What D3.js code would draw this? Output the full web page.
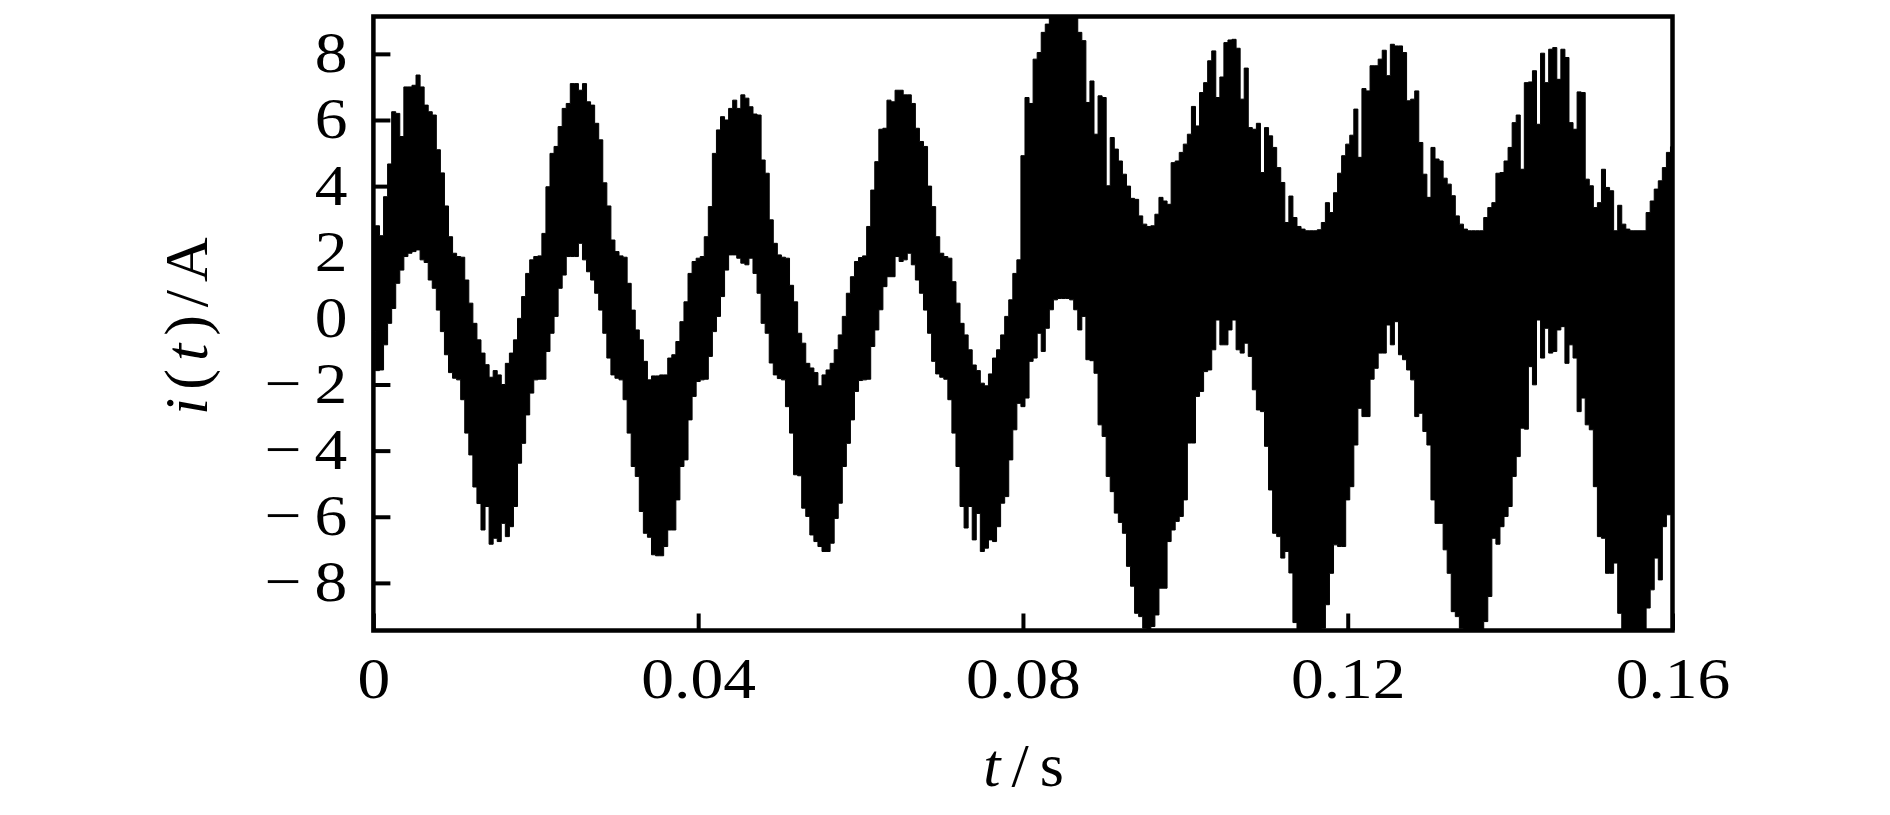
<!DOCTYPE html>
<html>
<head>
<meta charset="utf-8">
<script src="https://cdn.jsdelivr.net/npm/d3@7/dist/d3.min.js"></script>
<style>
html,body{margin:0;padding:0;background:#fff;}
svg{display:block;}
text{font-family:"Liberation Serif",serif;fill:#000;}
</style>
</head>
<body>
<svg id="chart" width="1890" height="815"></svg>
<script>
const sampleStep = 0.0005;
const xTicks = [0, 0.04, 0.08, 0.12, 0.16];
const xTickLabels = ["0", "0.04", "0.08", "0.12", "0.16"];
const yTicks = [8, 6, 4, 2, 0, -2, -4, -6, -8];
const xDomain = [0, 0.16];
const yDomain = [-9.44, 9.13];

// upper edge of the current trace, one value per 0.5 ms
const upperCurrent = [
2.8,2.8,2.5,3.68,4.67,6.25,6.2,5.5,7.0,7.0,7.05,7.36,7.0,6.45,6.25,6.15,5.1,4.4,3.4,2.47,
1.97,1.87,1.85,1.16,.46,-.15,-.65,-1.05,-1.4,-1.78,-1.58,-1.71,-2.0,-1.36,-1.05,-.65,0,.66,1.36,1.77,
1.87,1.89,2.57,3.98,4.99,5.2,5.8,6.35,6.5,7.1,7.1,6.9,7.1,6.55,6.45,5.9,5.4,4.1,3.4,2.37,
2.02,1.89,1.85,1.06,.25,-.35,-.65,-1.3,-1.86,-1.74,-1.74,-1.71,-1.71,-1.2,-1.1,-.7,-.1,.5,1.36,1.72,
1.82,1.87,2.47,3.38,4.99,5.7,6.1,6.0,6.35,6.6,6.35,6.76,6.66,6.4,6.18,6.15,4.79,4.39,2.98,2.27,
1.92,1.85,1.82,1.0,.5,-.45,-.75,-1.36,-1.5,-1.64,-2.04,-1.71,-1.56,-1.36,-.95,-.5,.06,.76,1.26,1.72,
1.84,1.89,2.78,3.88,4.74,5.72,5.75,6.6,6.55,6.9,6.9,6.76,6.76,6.5,5.75,5.35,5.2,4.0,3.38,2.47,
1.97,1.87,1.82,1.11,.46,-.15,-.5,-.95,-1.41,-1.58,-1.96,-2.04,-1.68,-1.2,-.95,-.5,.06,.56,1.36,1.77,
4.92,6.68,6.5,7.84,8.04,8.65,8.9,9.3,9.4,9.5,9.5,9.4,9.4,9.3,8.65,8.4,6.53,7.18,5.57,6.73,
6.68,4.01,5.47,5.12,4.76,4.36,4.0,3.63,3.6,3.1,2.85,2.78,2.8,3.15,3.66,3.55,3.45,4.71,4.76,5.02,
5.27,5.57,6.41,5.82,6.83,7.13,7.79,8.09,6.68,7.3,8.34,8.42,8.44,8.17,6.63,7.57,5.77,5.72,5.9,4.41,
5.77,5.52,5.17,4.56,4.11,2.9,3.7,3.05,2.78,2.7,2.65,2.65,2.65,2.68,2.9,3.5,3.2,3.8,4.39,4.92,
5.27,5.54,6.33,4.87,6.95,6.88,7.64,7.64,7.84,8.11,7.34,8.29,8.24,8.24,8.04,6.58,6.63,6.88,5.32,4.36,
3.66,5.17,4.82,4.76,4.24,4.06,3.71,3.1,2.85,2.7,2.65,2.65,2.65,2.65,3.05,3.35,3.5,4.39,4.41,4.76,
5.17,5.92,6.15,4.51,7.13,7.15,7.49,5.87,8.02,7.13,8.14,8.19,7.23,8.14,7.89,5.92,5.72,6.85,6.83,4.21,
4.01,3.35,3.5,4.51,3.96,3.86,2.65,3.42,2.85,2.7,2.65,2.65,2.65,2.65,3.2,3.55,3.91,4.16,4.56,5.02,
5.19];

// lower edge of the current trace, one value per 0.5 ms
const lowerCurrent = [
-.4,-1.58,-1.56,-.8,-.15,.3,1.06,1.46,1.87,1.97,2.02,2.07,1.77,1.69,1.16,.91,.25,-.4,-1.1,-1.64,
-1.81,-1.86,-2.46,-3.47,-4.13,-5.1,-5.6,-6.4,-5.69,-6.83,-6.65,-6.75,-6.2,-6.6,-6.3,-5.69,-4.38,-3.78,-2.92,-2.26,
-1.86,-1.84,-1.84,-1.0,-.45,.06,.91,1.31,1.87,1.87,1.87,2.27,1.77,1.41,1.16,.76,.25,-.45,-1.2,-1.71,
-1.81,-1.86,-2.46,-3.47,-4.48,-4.78,-5.84,-6.5,-6.62,-7.15,-7.18,-7.18,-6.9,-6.4,-6.4,-5.49,-4.48,-4.28,-3.07,-2.36,
-1.91,-1.86,-1.84,-1.15,-.4,.06,.66,1.46,1.92,1.92,1.82,1.67,1.62,1.82,1.36,.76,-.15,-.45,-1.35,-1.71,
-1.82,-1.86,-2.67,-3.47,-4.73,-4.76,-5.74,-5.99,-6.55,-6.75,-6.9,-7.05,-7.05,-6.8,-6.05,-5.59,-4.48,-3.78,-3.07,-2.21,
-1.88,-1.86,-1.84,-.85,-.35,.26,.96,1.26,1.26,1.87,1.72,1.77,1.97,1.62,1.16,.76,.25,-.45,-1.3,-1.68,
-1.78,-1.84,-2.46,-3.47,-4.48,-5.69,-6.34,-5.69,-6.7,-5.9,-7.05,-6.95,-6.7,-6.75,-6.3,-5.59,-5.39,-4.28,-3.37,-2.57,
-2.67,-2.41,-1.3,-1.2,-.45,-1.0,-.3,.26,.56,.6,.6,.6,.56,.26,-.35,.06,-1.25,-1.28,-1.66,-3.22,
-3.57,-4.78,-5.24,-5.89,-6.17,-6.5,-7.5,-8.1,-8.92,-9.02,-9.37,-9.42,-9.32,-8.97,-8.16,-8.16,-6.75,-6.4,-6.14,-5.99,
-5.49,-3.77,-3.77,-2.36,-2.21,-1.61,-1.56,-.95,-.05,-.8,-.8,-.35,-.05,-.95,-1.05,-.75,-1.15,-2.16,-2.77,-2.82,
-3.87,-5.19,-6.5,-6.6,-7.25,-7.05,-7.7,-9.2,-9.6,-9.7,-9.8,-9.8,-9.7,-9.6,-9.37,-8.66,-7.71,-6.85,-6.9,-6.9,
-5.49,-5.09,-3.83,-2.72,-2.97,-2.97,-1.84,-1.51,-1.05,-1.05,-.2,-.8,-.1,-1.1,-1.25,-1.56,-1.86,-2.97,-2.87,-3.42,
-3.83,-5.49,-6.2,-6.2,-7.0,-7.71,-8.87,-9.02,-9.37,-9.7,-9.8,-9.8,-9.7,-9.6,-9.17,-8.41,-6.65,-6.83,-6.3,-5.99,
-5.69,-4.78,-4.18,-3.32,-3.35,-1.46,-2.01,-.05,-1.2,-.3,-1.05,-1.0,-.35,-.25,-1.36,-.8,-1.2,-2.82,-2.41,-3.22,
-3.37,-5.09,-6.6,-6.65,-7.71,-7.71,-7.4,-8.92,-9.42,-9.6,-9.8,-9.8,-9.7,-9.5,-8.76,-8.21,-7.25,-7.91,-6.3,-5.94,
-5.89];

const yLabelParts = [["i","italic"],["(",""],["t","italic"],[")",""],["/",""],["A",""]];
const xLabelParts = [["t","italic"],["/",""],["s",""]];

const frame = {left:373.4, right:1672.5, top:16.5, bottom:630.5};
const x = d3.scaleLinear().domain(xDomain).range([frame.left, frame.right]);
const y = d3.scaleLinear().domain(yDomain).range([frame.bottom, frame.top]);

const svg = d3.select("#chart");

svg.append("clipPath").attr("id","plot").append("rect")
  .attr("x",frame.left).attr("y",frame.top)
  .attr("width",frame.right-frame.left).attr("height",frame.bottom-frame.top);

// the switching ripple is too dense to separate, so the trace fills its swing at each sample
const band = d3.area().curve(d3.curveStep)
  .x((d,i)=>x(i*sampleStep)).y1(d=>y(d)).y0((d,i)=>y(lowerCurrent[i]));
svg.append("path").attr("clip-path","url(#plot)")
  .attr("d",band(upperCurrent))
  .attr("fill","#000").attr("stroke","#000").attr("stroke-width",1)
  .attr("stroke-linejoin","round");

const stretch = 1.13;
const labelSize = 58;

const xAxis = d3.axisBottom(x).tickValues(xTicks)
  .tickFormat((d,i)=>xTickLabels[i]).tickSize(-17).tickPadding(26);
const gx = svg.append("g").attr("transform",`translate(0,${frame.bottom})`).call(xAxis);
gx.select(".domain").remove();
gx.selectAll("line").attr("stroke","#000").attr("stroke-width",4);
gx.selectAll("text").attr("font-size",labelSize)
  .attr("font-family","Liberation Serif").attr("fill","#000")
  .attr("transform",`scale(${stretch},1)`).attr("y",26).attr("dy","0.71em");

const yAxis = d3.axisLeft(y).tickValues(yTicks)
  .tickFormat(d=>d<0?"\u2212\u2009"+Math.abs(d):String(d)).tickSize(-17).tickPadding(26);
const gy = svg.append("g").attr("transform",`translate(${frame.left},0)`).call(yAxis);
gy.select(".domain").remove();
gy.selectAll("line").attr("stroke","#000").attr("stroke-width",4);
gy.selectAll("text").attr("font-size",labelSize)
  .attr("font-family","Liberation Serif").attr("fill","#000")
  .attr("transform",`scale(${stretch},1)`).attr("x",-26/stretch).attr("dy","0.31em");

svg.append("rect")
  .attr("x",frame.left).attr("y",frame.top)
  .attr("width",frame.right-frame.left).attr("height",frame.bottom-frame.top)
  .attr("fill","none").attr("stroke","#000").attr("stroke-width",4.5);

function addLabel(parts, transform, spacing) {
  const t = svg.append("text").attr("transform",transform)
    .attr("text-anchor","middle").attr("font-size",62)
    .style("letter-spacing",spacing+"px");
  parts.forEach(p=>t.append("tspan").text(p[0]).attr("font-style",p[1]||"normal"));
}
addLabel(xLabelParts, `translate(1029,786)`, 11);
addLabel(yLabelParts, `translate(207,322) rotate(-90)`, 8);
</script>
</body>
</html>
